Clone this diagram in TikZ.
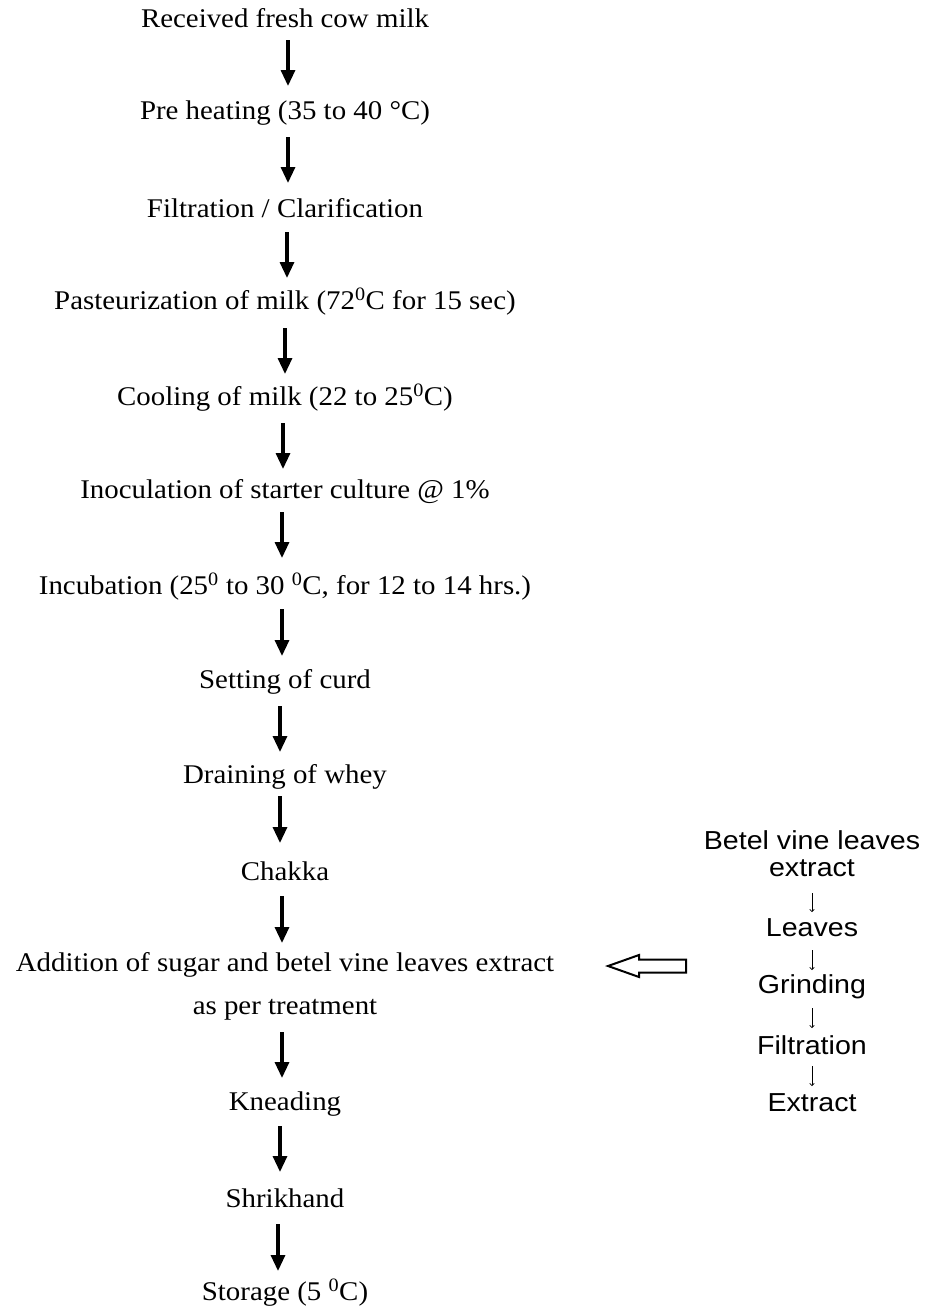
\documentclass[tikz,border=0pt]{standalone}
\usepackage{fontspec}
\setmainfont[FakeStretch=1.07]{Liberation Serif}
\newfontfamily\rsans[FakeStretch=1.1]{Liberation Sans}
\usetikzlibrary{arrows.meta}
\begin{document}
\begin{tikzpicture}[x=1pt,y=-1pt,
  stepnode/.style={inner sep=0pt,anchor=center,font=\fontsize{27}{32}\selectfont},
  sidenode/.style={inner sep=0pt,anchor=center,font=\rsans\fontsize{26}{30}\selectfont},
  flowarrow/.style={line width=3.2pt,-{Triangle[length=16pt,width=14pt]}},
  thinarrow/.style={line width=0.7pt,-{To[length=3pt,width=5pt]}}]
\useasboundingbox (0,0) rectangle (933,1310);
\node[stepnode] (n1) at (285,18) {Received fresh cow milk};
\node[stepnode] (n2) at (285,113) {Pre heating (35 to 40 °C)};
\node[stepnode] (n3) at (285,208) {Filtration / Clarification};
\node[stepnode] (n4) at (285,302) {Pasteurization of milk (72\textsuperscript{0}C for 15 sec)};
\node[stepnode] (n5) at (285,398) {Cooling of milk (22 to 25\textsuperscript{0}C)};
\node[stepnode] (n6) at (285,492) {Inoculation of starter culture @ 1\%};
\node[stepnode] (n7) at (285,587) {Incubation (25\textsuperscript{0} to 30 \textsuperscript{0}C, for 12 to 14 hrs.)};
\node[stepnode] (n8) at (285,682) {Setting of curd};
\node[stepnode] (n9) at (285,777) {Draining of whey};
\node[stepnode] (n10) at (285,871) {Chakka};
\node[stepnode] (n11) at (285,965) {Addition of sugar and betel vine leaves extract};
\node[stepnode] (n11b) at (285,1010) {as per treatment};
\node[stepnode] (n12) at (285,1104) {Kneading};
\node[stepnode] (n13) at (285,1198) {Shrikhand};
\node[stepnode] (n14) at (285,1293) {Storage (5 \textsuperscript{0}C)};
% arrows
\draw[flowarrow] (288,40) -- (288,86);
\draw[flowarrow] (288,137) -- (288,183);
\draw[flowarrow] (287,232) -- (287,278);
\draw[flowarrow] (285,328) -- (285,374);
\draw[flowarrow] (283,423) -- (283,469);
\draw[flowarrow] (282,512) -- (282,558);
\draw[flowarrow] (282,609) -- (282,656);
\draw[flowarrow] (280,706) -- (280,752);
\draw[flowarrow] (280,796) -- (280,843);
\draw[flowarrow] (282,896) -- (282,943);
\draw[flowarrow] (282,1032) -- (282,1078);
\draw[flowarrow] (280,1126) -- (280,1172);
\draw[flowarrow] (278,1224) -- (278,1271);
% right column
\node[sidenode] (s1) at (812,840) {Betel vine leaves};
\node[sidenode] (s1b) at (812,868) {extract};
\node[sidenode] (s2) at (812,928) {Leaves};
\node[sidenode] (s3) at (812,987) {Grinding};
\node[sidenode] (s4) at (812,1045) {Filtration};
\node[sidenode] (s5) at (812,1103) {Extract};
\draw[thinarrow] (812,893) -- (812,912);
\draw[thinarrow] (812,950) -- (812,970);
\draw[thinarrow] (812,1008) -- (812,1028);
\draw[thinarrow] (812,1066) -- (812,1086);
% hollow arrow
\draw[line width=2pt,line join=miter,fill=white] (608,966) -- (639,955) -- (639,959.5) -- (686,959.5) -- (686,972.5) -- (639,972.5) -- (639,977) -- cycle;
\end{tikzpicture}
\end{document}
